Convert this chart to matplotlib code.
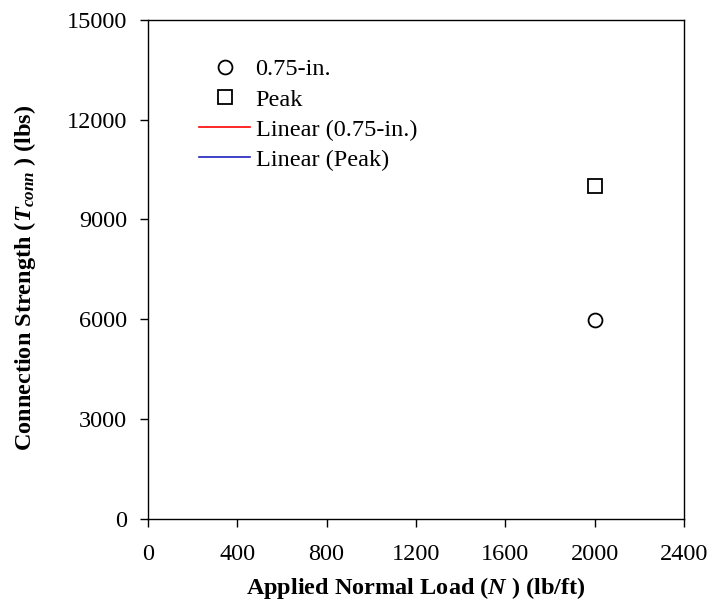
import matplotlib.pyplot as plt

plt.rcParams['font.family'] = 'Liberation Serif'
plt.rcParams['mathtext.fontset'] = 'custom'
plt.rcParams['mathtext.rm'] = 'Liberation Serif'
plt.rcParams['mathtext.it'] = 'Liberation Serif:italic'
plt.rcParams['mathtext.bf'] = 'Liberation Serif:bold'
plt.rcParams['mathtext.bfit'] = 'Liberation Serif:italic:bold'

# data
load_075 = [2000]
strength_075 = [5970]
load_peak = [2000]
strength_peak = [10000]

x_ticks = [0, 400, 800, 1200, 1600, 2000, 2400]
y_ticks = [0, 3000, 6000, 9000, 12000, 15000]

fig = plt.figure(figsize=(7.21, 6.02), dpi=100)
ax = fig.add_axes([0.205, 0.138, 0.744, 0.829])

ax.plot(load_075, strength_075, 'o', mfc='white', mec='black', ms=10, mew=1.3, label='0.75-in.')
ax.plot(load_peak, strength_peak, 's', mfc='white', mec='black', ms=10, mew=1.3, label='Peak')
# trend lines (single point each, so only visible in legend)
ax.plot(load_075, strength_075, '-', color='red', lw=1.2, label='Linear (0.75-in.)')
ax.plot(load_peak, strength_peak, '-', color='#2020c0', lw=1.2, label='Linear (Peak)')

ax.set_xlim(0, 2400)
ax.set_ylim(0, 15000)
ax.set_xticks(x_ticks)
ax.set_yticks(y_ticks)
ax.tick_params(direction='out', length=6, width=1, labelsize=17.5)
ax.tick_params(axis='y', pad=9)
ax.tick_params(axis='x', pad=12)
for s in ax.spines.values():
    s.set_linewidth(1)

ax.set_xlabel(r'Applied Normal Load ($\mathbfit{N}$ ) (lb/ft)', fontsize=17.5, fontweight='bold', labelpad=7)
ax.set_ylabel(r'Connection Strength ($\mathbfit{T}_{\mathbfit{conn}}$ ) (lbs)', fontsize=17.5, fontweight='bold')
ax.yaxis.set_label_coords(-0.205, 0.484)

ax.legend(loc='upper left', bbox_to_anchor=(0.073, 0.947), frameon=False, fontsize=17.5,
          handlelength=2.1, handletextpad=0.22, borderpad=0, labelspacing=0.33)

fig.savefig('out.png', dpi=100)
